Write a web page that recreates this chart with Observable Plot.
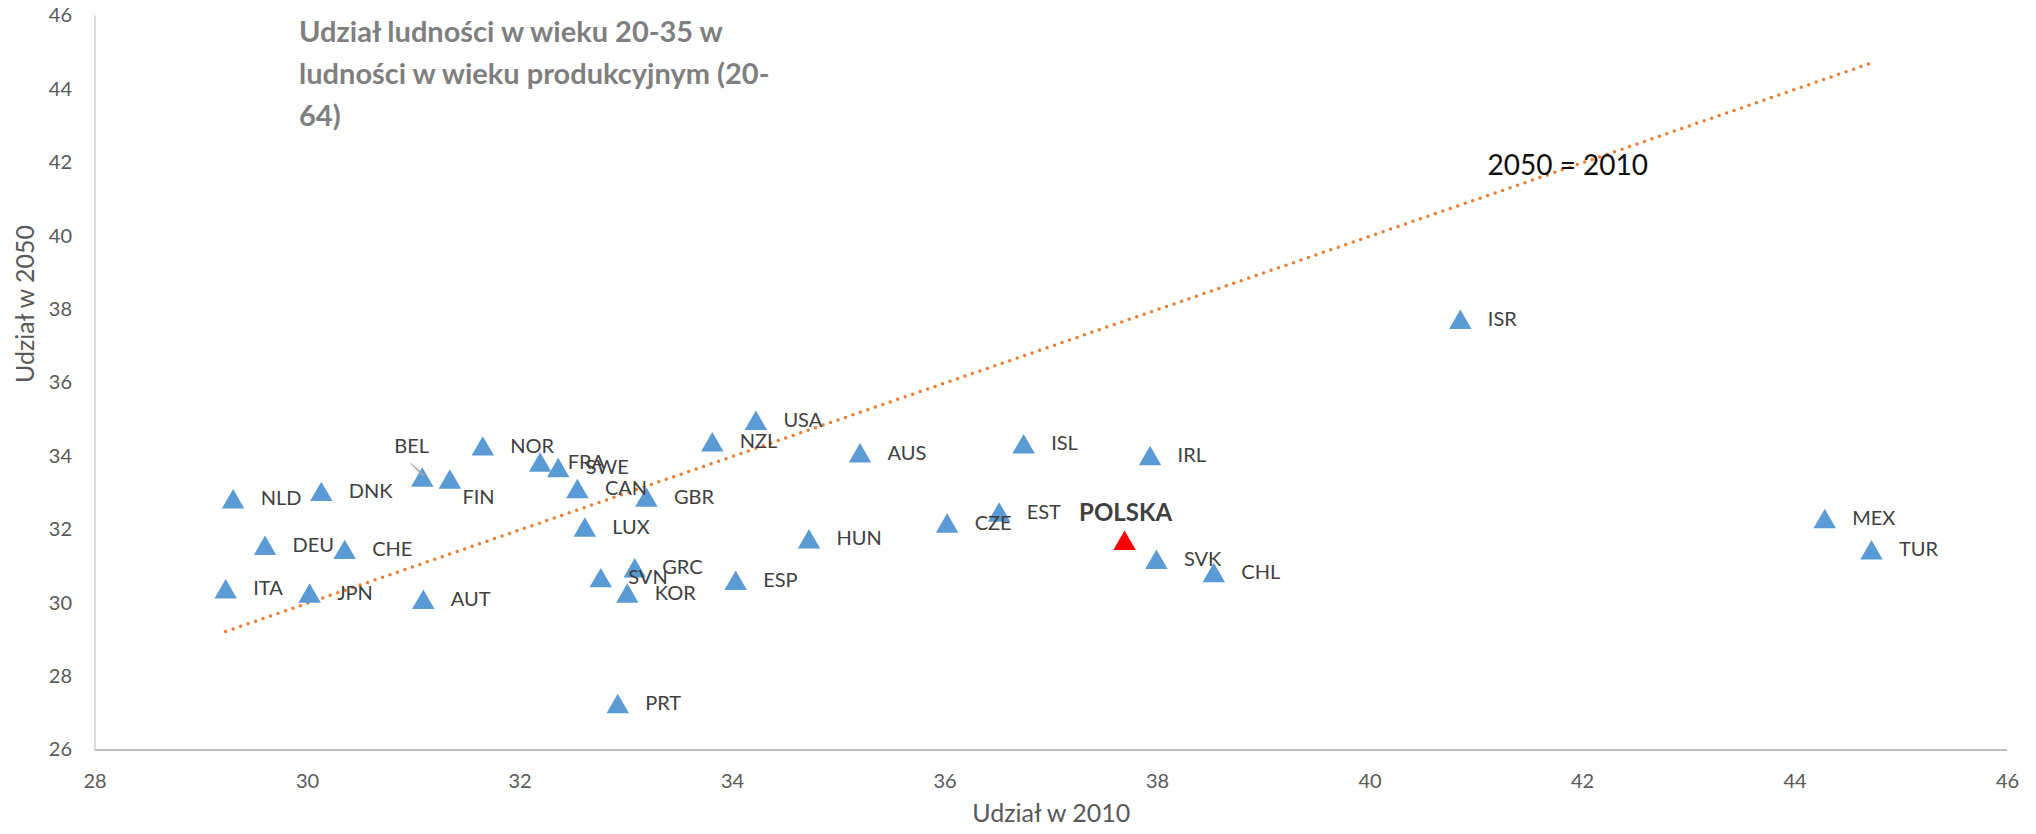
<!DOCTYPE html>
<html>
<head>
<meta charset="utf-8">
<script src="https://cdn.jsdelivr.net/npm/d3@7"></script>
<script src="https://cdn.jsdelivr.net/npm/@observablehq/plot@0.6"></script>
<style>
  html, body { margin: 0; padding: 0; background: #ffffff; }
  #chart svg { display: block; }
</style>
</head>
<body>
<div id="chart"></div>
<script>
// ---- Data ----
const countries = ["ITA","NLD","DEU","DNK","JPN","CHE","BEL","AUT","FIN","NOR","FRA","SWE","CAN","LUX","SVN","PRT","GRC","KOR","GBR","NZL","USA","ESP","AUS","HUN","CZE","EST","ISL","IRL","POLSKA","SVK","CHL","ISR","MEX","TUR"];
const share2010 = [29.23,29.30,29.60,30.13,30.02,30.35,31.08,31.09,31.34,31.65,32.19,32.36,32.54,32.61,32.76,32.92,33.08,33.01,33.19,33.81,34.22,34.03,35.20,34.72,36.02,36.51,36.74,37.93,37.69,37.99,38.53,40.85,44.28,44.72];
const share2050 = [30.39,32.84,31.57,33.04,30.27,31.46,33.43,30.10,33.38,34.28,33.84,33.69,33.12,32.07,30.69,27.26,30.96,30.27,32.89,34.39,34.98,30.62,34.09,31.75,32.18,32.48,34.34,34.02,31.71,31.19,30.83,37.73,32.30,31.45];
const xTicks = [28,30,32,34,36,38,40,42,44,46];
const yTicks = [26,28,30,32,34,36,38,40,42,44,46];
const titleLines = ["Udział ludności w wieku 20-35 w", "ludności w wieku produkcyjnym (20-", "64)"];
const xTitle = "Udział w 2010";
const yTitle = "Udział w 2050";
const refLineLabel = "2050 = 2010";
const highlight = "POLSKA";

// ---- Derived tables ----
const data = countries.map((c, i) => ({country: c, x: share2010[i], y: share2050[i]}));
const refLine = d3.extent(share2010).map(v => ({x: v, y: v}));

// ---- Layout / style ----
const W = 2036, H = 834;
const ML = 94.5, MR = 29, MT = 15.5, MB = 84.5;
const labelOffsets = {BEL: {dx: -28, dy: -31}, FIN: {dx: 12.5, dy: 18}};
const blue = "#5b9bd5", red = "#ff0000", orange = "#ed7d31";
const labelColor = "#404040", axisColor = "#595959";

const normal = data.filter(d => d.country !== highlight);
const hi = data.filter(d => d.country === highlight);
const defaultLabeled = normal.filter(d => !(d.country in labelOffsets));

const specialTextMarks = Object.entries(labelOffsets).map(([c, o]) =>
  Plot.text(data.filter(d => d.country === c), {
    x: "x", y: "y", text: "country", textAnchor: "start",
    dx: o.dx, dy: o.dy, fill: labelColor, fontSize: 20
  })
);

const chart = Plot.plot({
  width: W, height: H,
  marginLeft: ML, marginRight: MR, marginTop: MT, marginBottom: MB,
  x: {domain: [28, 46]},
  y: {domain: [26, 46]},
  style: {fontFamily: "Lato, sans-serif", fontSize: "20px", background: "#ffffff", overflow: "visible"},
  marks: [
    Plot.ruleX([28], {stroke: "#d0d0d0", strokeWidth: 1.5}),
    Plot.ruleY([26], {stroke: "#bfbfbf", strokeWidth: 2.2}),
    Plot.axisX({ticks: xTicks, tickSize: 0, tickPadding: 23.5, label: null, fill: axisColor, tickFormat: d3.format("d")}),
    Plot.axisY({ticks: yTicks, tickSize: 0, tickPadding: 23, label: null, fill: axisColor, tickFormat: d3.format("d")}),
    Plot.line(refLine, {x: "x", y: "y", stroke: orange, strokeWidth: 3.5, strokeDasharray: "0,7.9", strokeLinecap: "round"}),
    Plot.dot(normal, {x: "x", y: "y", symbol: "triangle", r: 8.35, fill: blue, dy: 3}),
    Plot.dot(hi, {x: "x", y: "y", symbol: "triangle", r: 8.35, fill: red, dy: 3}),
    Plot.vector(data.filter(d => d.country === "BEL"), {
      x: "x", y: "y", length: 17, rotate: -46, anchor: "start", shape: "spike", r: 0.5,
      stroke: "#a6a6a6", fill: "#a6a6a6", strokeWidth: 1, dx: 1, dy: -2
    }),
    Plot.text(defaultLabeled, {x: "x", y: "y", text: "country", textAnchor: "start", dx: 27.5, fill: labelColor, fontSize: 20}),
    ...specialTextMarks,
    Plot.text(hi, {x: "x", y: "y", text: "country", textAnchor: "middle", dx: 1, dy: -27.5, fill: labelColor, fontSize: 24, fontWeight: "bold"}),
    Plot.text([0], {text: () => titleLines.join("\n"), frameAnchor: "top-left", textAnchor: "start", lineAnchor: "top",
      dx: 204, dy: -4, fontSize: 29, fontWeight: "bold", fill: "#7f7f7f", lineHeight: 1.45}),
    Plot.text([refLineLabel], {text: d => d, frameAnchor: "top-left", textAnchor: "start", dx: 1392.5, dy: 139, fontSize: 28, fill: "#0d0d0d"}),
    Plot.text([xTitle], {text: d => d, frameAnchor: "bottom", dy: 71.5, fill: axisColor, fontSize: 25}),
    Plot.text([yTitle], {text: d => d, frameAnchor: "left", dx: -69.5, rotate: -90, fill: axisColor, fontSize: 25})
  ]
});
document.getElementById("chart").appendChild(chart);
</script>
</body>
</html>
